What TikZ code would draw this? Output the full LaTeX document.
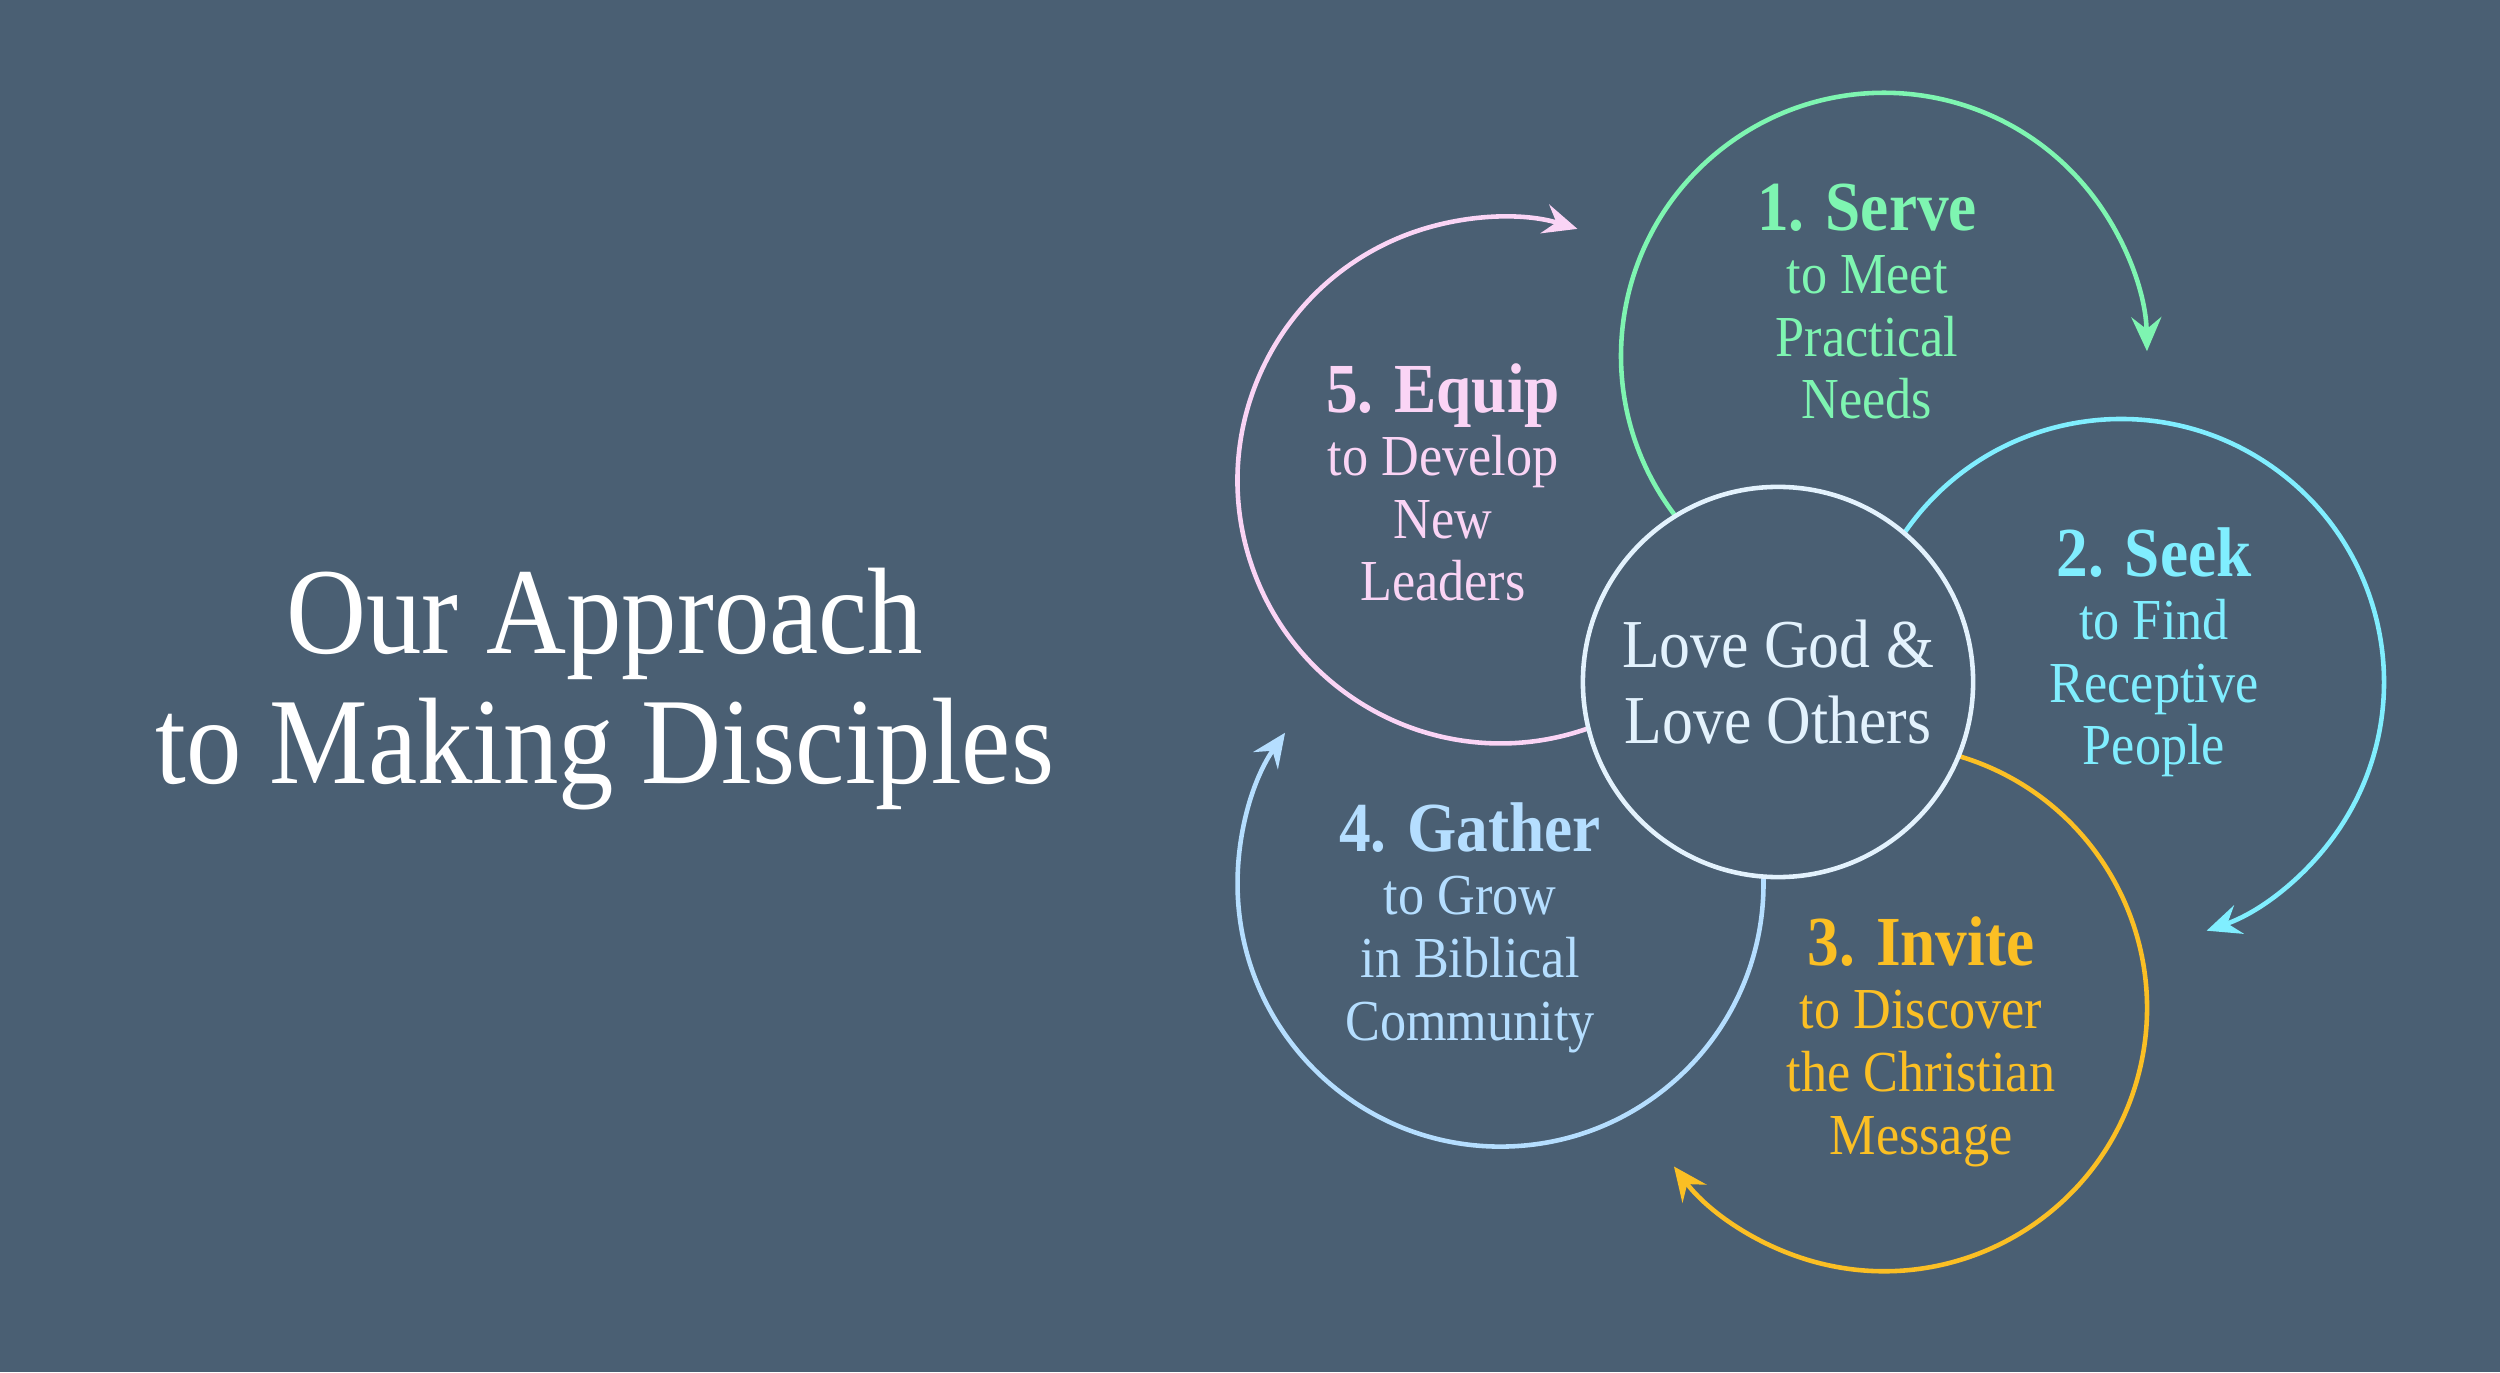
\documentclass[tikz,border=0pt]{standalone}
\usepackage{fontspec}
\setmainfont[FakeStretch=0.9]{Liberation Serif}
\usetikzlibrary{arrows.meta,calc}
\definecolor{bg}{HTML}{4A5F73}
\definecolor{serveC}{HTML}{7EF5B1}
\definecolor{seekC}{HTML}{80EEFF}
\definecolor{inviteC}{HTML}{FBBF24}
\definecolor{gatherC}{HTML}{B5DEFF}
\definecolor{equipC}{HTML}{FAD4F5}
\definecolor{coreC}{HTML}{E3F2FD}
\begin{document}
\begin{tikzpicture}[x=0.01cm,y=0.01cm,
  ring/.style={line width=1.3pt, -{Stealth[length=0.34cm,width=0.30cm,inset=0.12cm]}},
  coreshape/.style={circle, draw=coreC, line width=1.3pt, minimum size=3.9cm, inner sep=0pt,
     text=coreC, align=center, font=\fontsize{19.5}{21.8}\selectfont},
  steptext/.style={align=center, anchor=base, inner sep=0pt, font=\fontsize{16.5}{17.9}\selectfont},
  titletext/.style={align=center, anchor=base, inner sep=0pt, text=white, font=\fontsize{35}{37.2}\selectfont}]
\fill[bg] (0,0) rectangle (2500,1372);
\useasboundingbox (0,0) rectangle (2500,1372);
\coordinate (C) at (1778,690);
\coordinate (P1) at ($(C)+(72:343)$);
\coordinate (P2) at ($(C)+(0:343)$);
\coordinate (P3) at ($(C)+(-72:343)$);
\coordinate (P4) at ($(C)+(-144:343)$);
\coordinate (P5) at ($(C)+(144:343)$);
% rings
\draw[ring, serveC]  ($(P1)+(217.6:263)$) arc[start angle=217.6, end angle=1, radius=263];
\draw[ring, seekC]   ($(P2)+(145.6:263)$) arc[start angle=145.6, end angle=-71, radius=263];
\draw[ring, inviteC] ($(P3)+(73.6:263)$)  arc[start angle=73.6, end angle=-143, radius=263];
\draw[ring, gatherC] ($(P4)+(1.6:263)$)   arc[start angle=1.6, end angle=-215, radius=263];
\draw[ring, equipC]  ($(P5)+(289.6:263)$) arc[start angle=289.6, end angle=73, radius=263];
% core
\node[coreshape] (core) at (C) {Love God \&\\Love Others};
% step texts (anchor base = last line baseline)
\node[steptext, text=serveC] (s1) at (1867,953) {{\bfseries\fontsize{20}{17.9}\selectfont 1. Serve}\\to Meet\\Practical\\Needs};
\node[steptext, text=seekC] (s2) at (2154,607) {{\bfseries\fontsize{20}{17.9}\selectfont 2. Seek}\\to Find\\Receptive\\People};
\node[steptext, text=inviteC] (s3) at (1921,218) {{\bfseries\fontsize{20}{17.9}\selectfont 3. Invite}\\to Discover\\the Christian\\Message};
\node[steptext, text=gatherC] (s4) at (1470,332) {{\bfseries\fontsize{20}{17.9}\selectfont 4. Gather}\\to Grow\\in Biblical\\Community};
\node[steptext, text=equipC] (s5) at (1443,771) {{\bfseries\fontsize{20}{17.9}\selectfont 5. Equip}\\to Develop\\New\\Leaders};
% title
\node[titletext] (title) at (605,588) {Our Approach\\to Making Disciples};
\end{tikzpicture}
\end{document}
